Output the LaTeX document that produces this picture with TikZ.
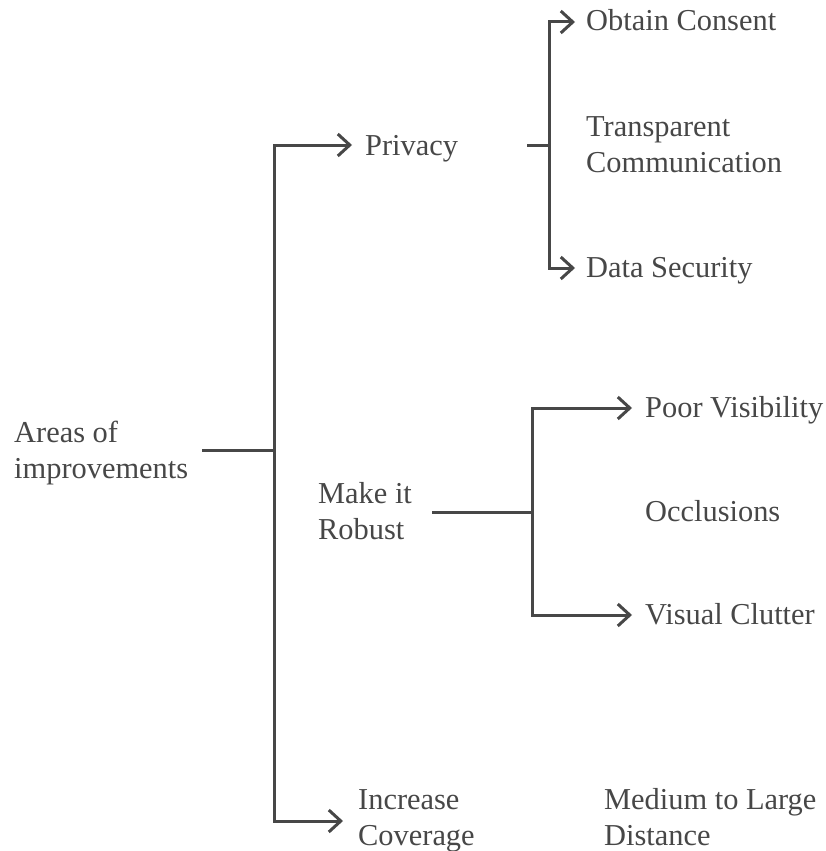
\documentclass[tikz,border=0pt]{standalone}
\usepackage{fontspec}
\setmainfont{Liberation Serif}
\usetikzlibrary{arrows.meta}
\definecolor{ink}{HTML}{474747}
\tikzset{
  leaf/.style={anchor=base west, inner sep=0pt, align=left, text=ink,
    font=\fontsize{30.4}{36}\selectfont},
  link/.style={draw=ink, line width=3pt},
  arr/.style={link, -{Straight Barb[length=12pt,width=22pt,line width=3pt]}},
}
\begin{document}
\begin{tikzpicture}[x=1pt,y=-1pt]
    \useasboundingbox (0,0) rectangle (825,851);
    % texts (base = last line)
    \node[leaf] (root)    at (14,478)  {Areas of\\improvements};
    \node[leaf] (privacy) at (365,155) {Privacy};
    \node[leaf] (robust)  at (318,539) {Make it\\Robust};
    \node[leaf] (cover)   at (358,845) {Increase\\Coverage};
    \node[leaf] (consent) at (586,31)  {Obtain Consent};
    \node[leaf] (transp)  at (586,172) {Transparent\\Communication};
    \node[leaf] (secure)  at (586,277) {Data Security};
    \node[leaf] (poor)    at (645,417) {Poor Visibility};
    \node[leaf] (occl)    at (645,521) {Occlusions};
    \node[leaf] (clutter) at (645,624) {Visual Clutter};
    \node[leaf] (dist)    at (604,845) {Medium to Large\\Distance};
    % joints
    \coordinate (jroot) at (274,450);
    \coordinate (jpriv) at (549,145);
    \coordinate (jrob)  at (532,512);
    % arrow ends
    \coordinate (tpriv)    at (352,145);
    \coordinate (tcover)   at (343,821);
    \coordinate (tconsent) at (575,22);
    \coordinate (tsecure)  at (575,268);
    \coordinate (tpoor)    at (632,408);
    \coordinate (tclutter) at (632,615);
    % first level
    \draw[link] ([xshift=14pt]root.east |- jroot) -- (jroot);
    \draw[arr] (jroot) |- (tpriv);
    \draw[arr] (jroot) |- (tcover);
    % privacy
    \draw[link] ([xshift=-22pt]jpriv) -- (jpriv);
    \draw[arr] (jpriv) |- (tconsent);
    \draw[arr] (jpriv) |- (tsecure);
    % robust
    \draw[link] ([xshift=20pt]robust.east |- jrob) -- (jrob);
    \draw[arr] (jrob) |- (tpoor);
    \draw[arr] (jrob) |- (tclutter);
\end{tikzpicture}
\end{document}
